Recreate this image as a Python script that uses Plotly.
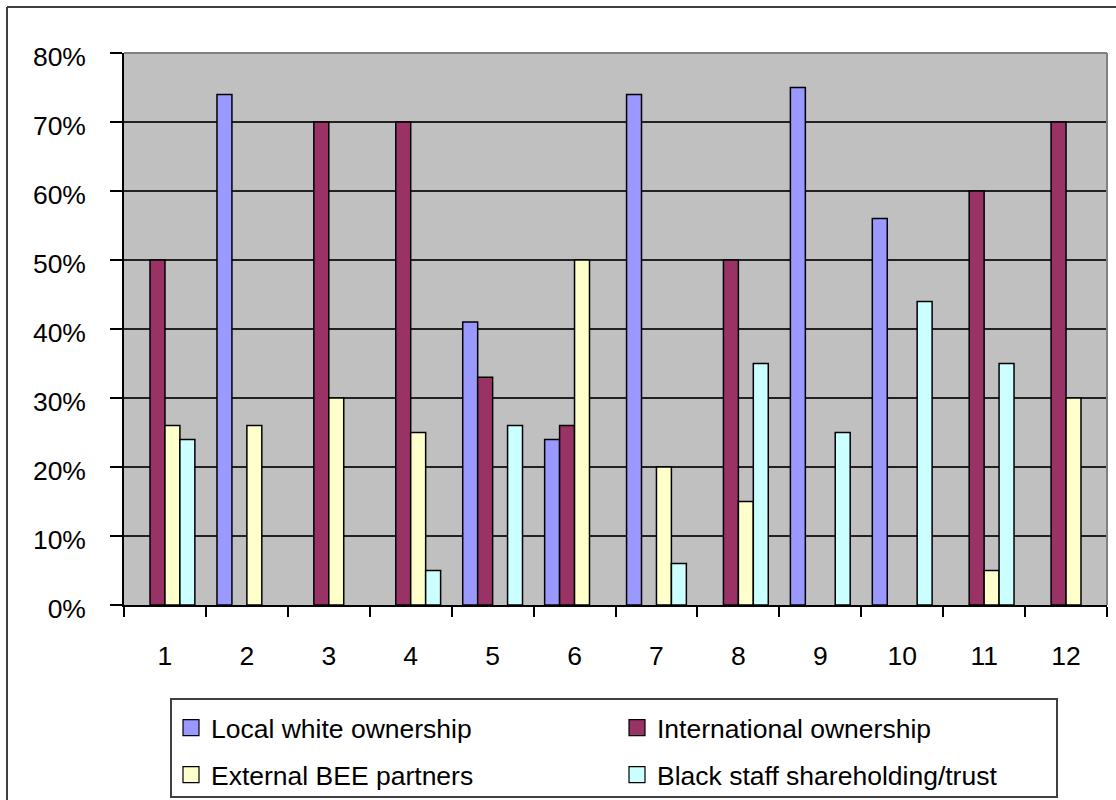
import plotly.graph_objects as go

# Ownership share per company (1-12), one list per ownership type;
# None where a company has no holding of that type
companies = [str(i) for i in range(1, 13)]
local_white = [None, 0.74, None, None, 0.41, 0.24, 0.74, None, 0.75, 0.56, None, None]
international = [0.50, None, 0.70, 0.70, 0.33, 0.26, None, 0.50, None, None, 0.60, 0.70]
external_bee = [0.26, 0.26, 0.30, 0.25, None, 0.50, 0.20, 0.15, None, None, 0.05, 0.30]
black_staff = [0.24, None, None, 0.05, 0.26, None, 0.06, 0.35, 0.25, 0.44, 0.35, None]

series = [
    ("Local white ownership", local_white, "#9999FF", "legend"),
    ("International ownership", international, "#993366", "legend"),
    ("External BEE partners", external_bee, "#FFFFCC", "legend2"),
    ("Black staff shareholding/trust", black_staff, "#CCFFFF", "legend2"),
]

FONT = "Liberation Sans, Arial, sans-serif"
FSIZE = 26.5

fig = go.Figure()
for name, vals, color, leg in series:
    fig.add_trace(go.Bar(
        x=companies, y=vals, name=name, showlegend=False,
        marker=dict(color=color, line=dict(color="black", width=1.5)),
    ))
# legend keys: square swatches in the series colours
for name, vals, color, leg in series:
    fig.add_trace(go.Scatter(
        x=[None], y=[None], mode="markers", name=name, legend=leg,
        marker=dict(symbol="square", size=16, color=color,
                    line=dict(color="black", width=1.2)),
    ))

W, H = 1116, 800
L, R, T, B = 124, 9, 53, 195
pw, ph = W - L - R, H - T - B


def px_x(px):
    return (px - L) / pw


def px_y(py):
    return (H - B - py) / ph


legend_common = dict(
    orientation="h", xanchor="left", yanchor="middle",
    entrywidth=401, bgcolor="rgba(0,0,0,0)", borderwidth=0,
    font=dict(family=FONT, size=FSIZE, color="black"),
)

fig.update_layout(
    width=W, height=H,
    margin=dict(l=L, r=R, t=T, b=B, autoexpand=False),
    paper_bgcolor="white",
    plot_bgcolor="#C0C0C0",
    barmode="group",
    bargap=0.27,
    bargroupgap=0,
    font=dict(family=FONT, size=FSIZE, color="black"),
    legend=dict(x=px_x(171), y=px_y(728), **legend_common),
    legend2=dict(x=px_x(171), y=px_y(775), **legend_common),
    xaxis=dict(
        type="category", tickson="boundaries", ticks="outside", ticklen=10,
        tickcolor="black", tickwidth=1.5, showline=True, linecolor="black", linewidth=1.5,
        showgrid=False, ticklabelstandoff=26,
        tickfont=dict(family=FONT, size=FSIZE, color="black"),
    ),
    yaxis=dict(
        range=[0, 0.8], dtick=0.1, tickformat=".0%", ticks="outside", ticklen=12,
        tickcolor="black", tickwidth=1.5, showline=True, linecolor="black", linewidth=1.5,
        showgrid=True, gridcolor="#222222", gridwidth=1.5, zeroline=False,
        ticklabelstandoff=19, ticklabelshift=4,
        tickfont=dict(family=FONT, size=FSIZE, color="black"),
    ),
    shapes=[
        # plot area frame (top and right edges)
        dict(type="line", xref="paper", yref="paper", x0=0, x1=1, y0=1, y1=1,
             line=dict(color="#808080", width=2)),
        dict(type="line", xref="paper", yref="paper", x0=1, x1=1, y0=0, y1=1,
             line=dict(color="#808080", width=2)),
        # chart outer frame
        dict(type="line", xref="paper", yref="paper", x0=px_x(7), x1=px_x(1120),
             y0=px_y(7), y1=px_y(7), line=dict(color="#404040", width=2)),
        dict(type="line", xref="paper", yref="paper", x0=px_x(7), x1=px_x(7),
             y0=px_y(7), y1=px_y(805), line=dict(color="#404040", width=2)),
        # legend box
        dict(type="rect", xref="paper", yref="paper", x0=px_x(171), x1=px_x(1057),
             y0=px_y(699), y1=px_y(797), line=dict(color="#404040", width=2),
             fillcolor="rgba(0,0,0,0)"),
    ],
)

fig.write_html("out.html")
